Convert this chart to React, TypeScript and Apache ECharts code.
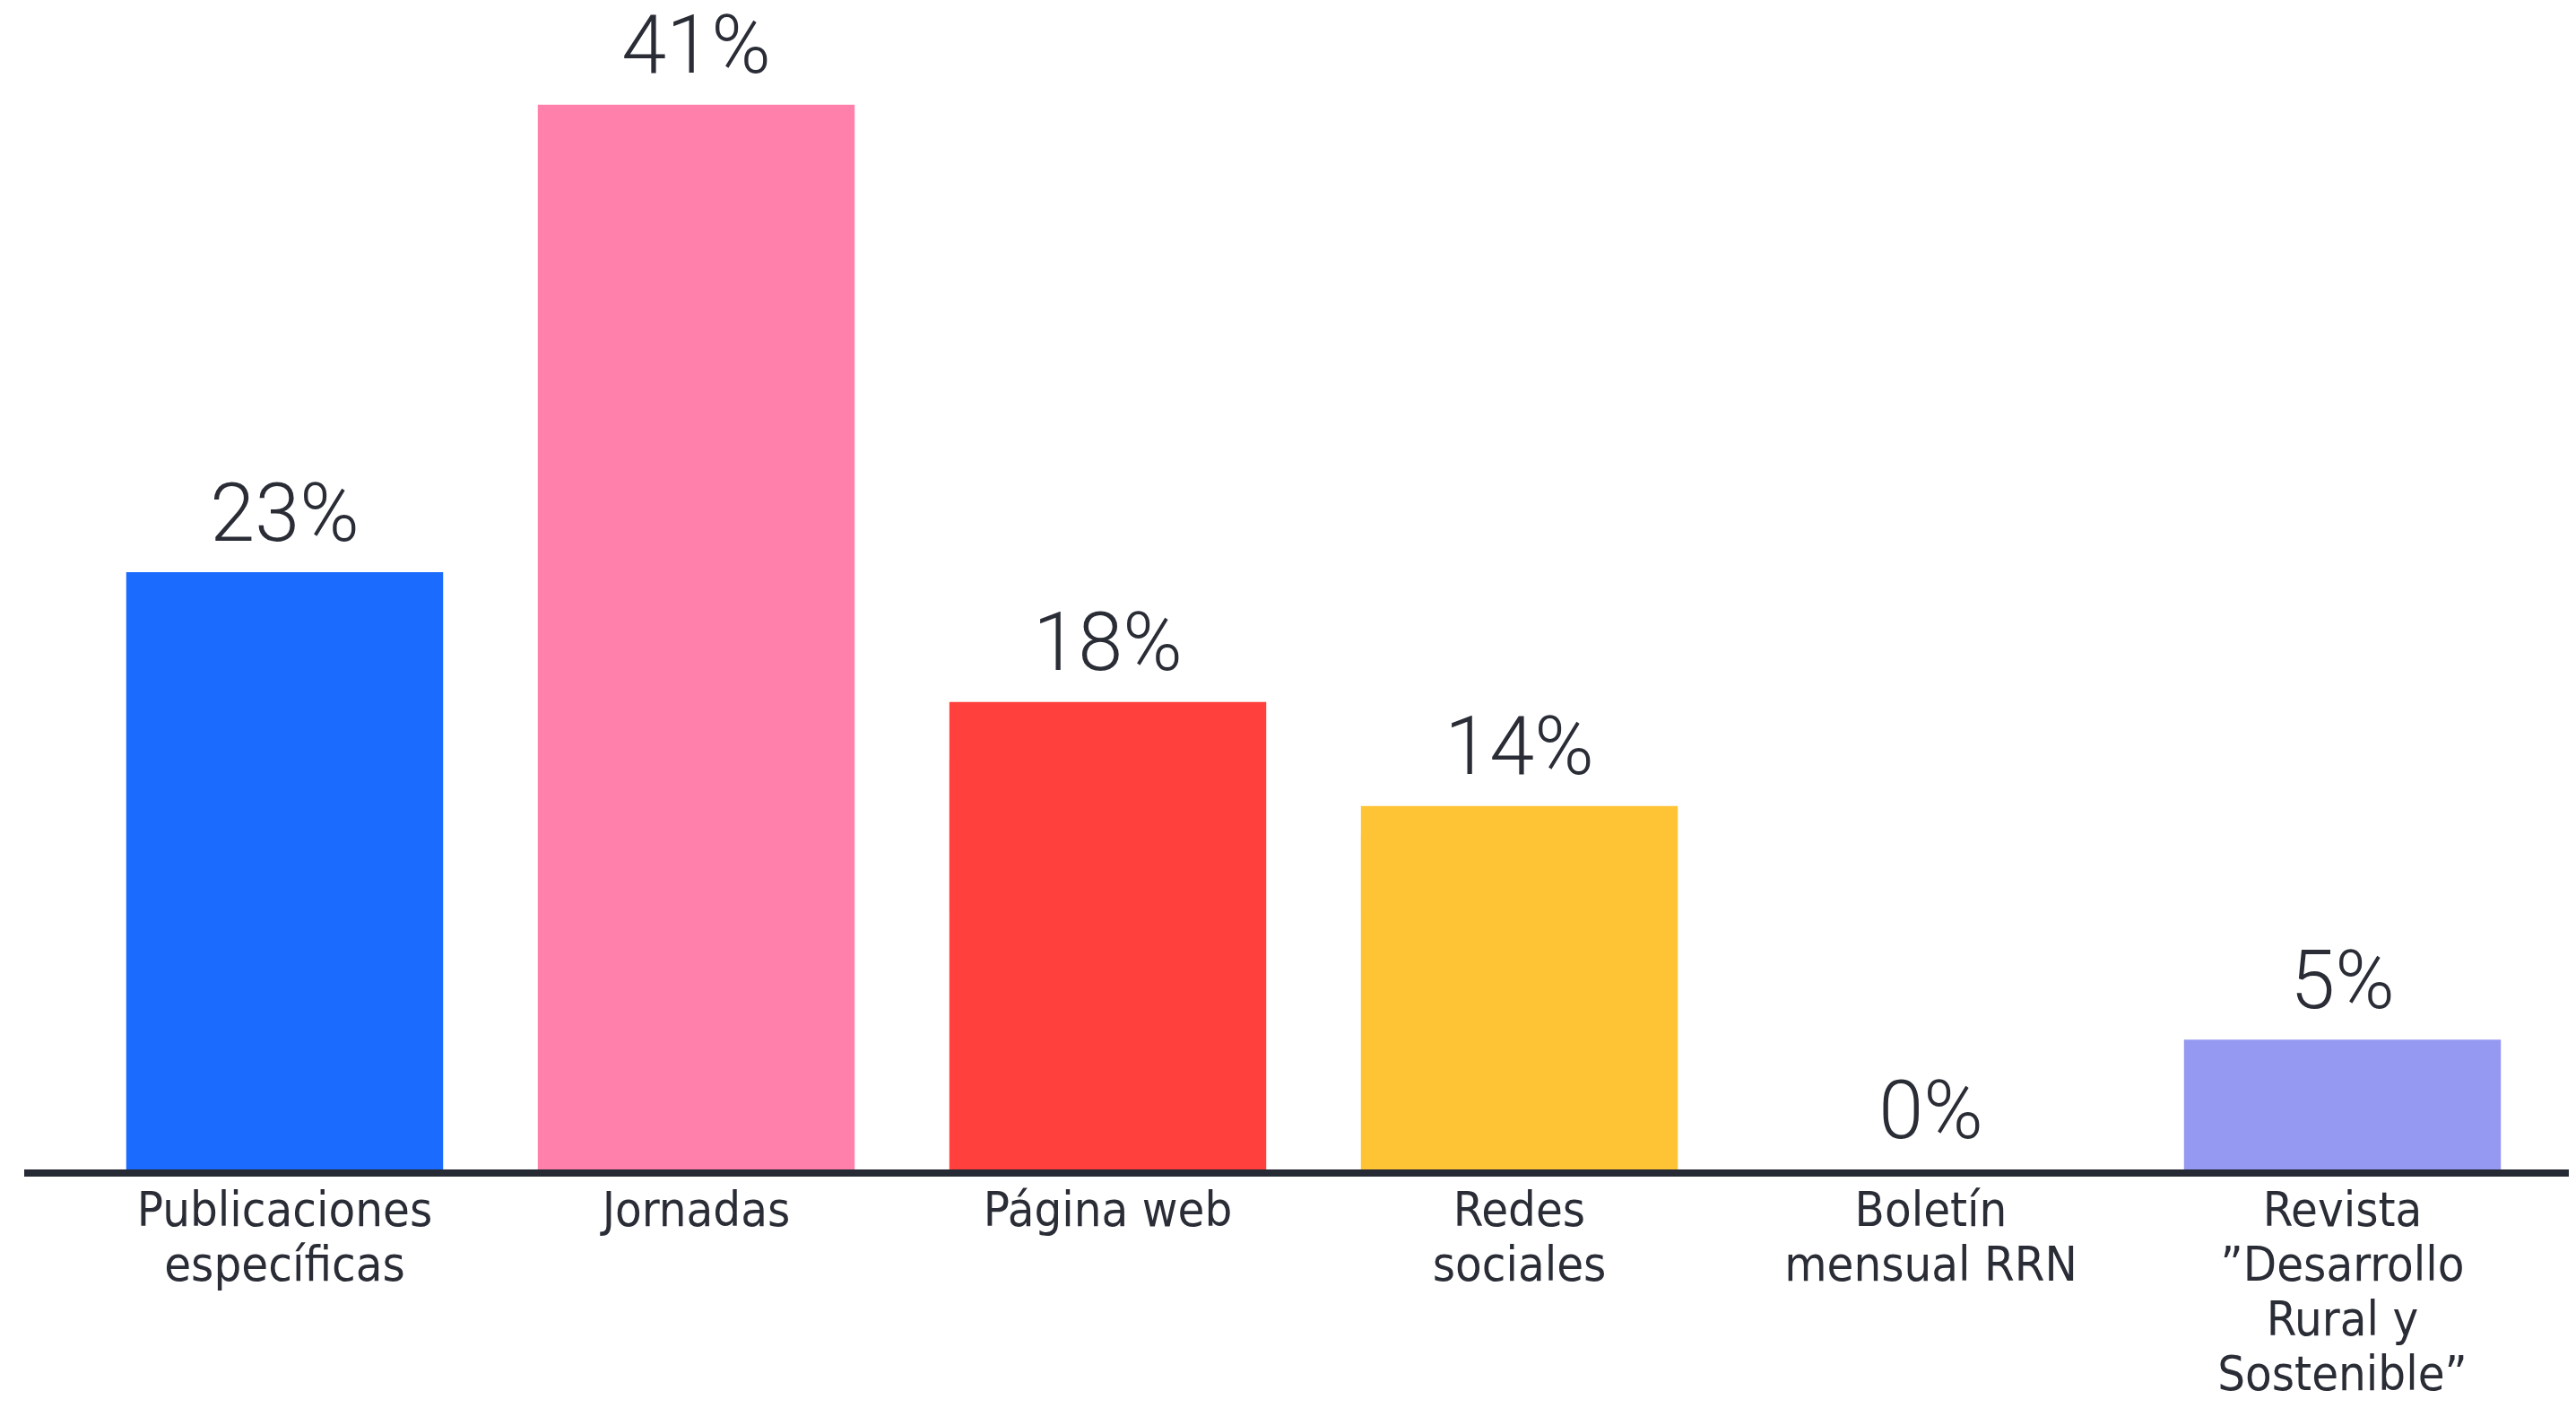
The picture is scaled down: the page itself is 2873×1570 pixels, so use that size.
import React, { useEffect, useRef } from "react";
import * as echarts from "echarts";

const categories = [
  "Publicaciones\nespecíficas",
  "Jornadas",
  "Página web",
  "Redes\nsociales",
  "Boletín\nmensual RRN",
  "Revista\n”Desarrollo\nRural y\nSostenible”",
];
const values = [23, 41, 18, 14, 0, 5];
const colors = ["#1B6BFF", "#FF80AA", "#FF403D", "#FFC336", "#9699F2", "#9699F2"];

const TEXT = "#2A2D36";
const CAT_FONT = "'DejaVu Sans Condensed', Roboto, sans-serif";
const VAL_FONT = "Roboto, sans-serif";

export default function App() {
  const ref = useRef<HTMLDivElement>(null);
  useEffect(() => {
    if (!ref.current) return;
    const chart = echarts.init(ref.current, undefined, { renderer: "svg" });
    chart.setOption({
      animation: false,
      backgroundColor: "#FFFFFF",
      grid: { left: 80, right: 23, top: 22, bottom: 247, containLabel: false },
      xAxis: {
        type: "category",
        data: categories,
        axisLine: { show: false },
        axisTick: { show: false },
        axisLabel: {
          color: TEXT,
          fontFamily: CAT_FONT,
          fontSize: 54,
          lineHeight: 61,
          margin: 14,
          interval: 0,
        },
      },
      yAxis: {
        type: "value",
        min: 0,
        max: 44,
        show: false,
        splitLine: { show: false },
      },
      series: [
        {
          type: "bar",
          data: values.map((v, i) => ({ value: v, itemStyle: { color: colors[i] } })),
          barCategoryGap: "23%",
          label: {
            show: true,
            position: "top",
            distance: 31,
            formatter: "{c}%",
            color: TEXT,
            fontFamily: VAL_FONT,
            fontWeight: 300,
            fontSize: 90,
            lineHeight: 70,
          },
        },
      ],
    });
    const y0 = chart.convertToPixel({ yAxisIndex: 0 }, 0) as number;
    const w = chart.getWidth();
    chart.setOption({
      graphic: [
        {
          type: "line",
          shape: { x1: 19, y1: y0 + 4, x2: w, y2: y0 + 4 },
          style: { stroke: "#262A35", lineWidth: 8 },
          z: 10,
        },
      ],
    });
    return () => chart.dispose();
  }, []);
  return <div ref={ref} style={{ width: "100%", height: 1554 }} />;
}
